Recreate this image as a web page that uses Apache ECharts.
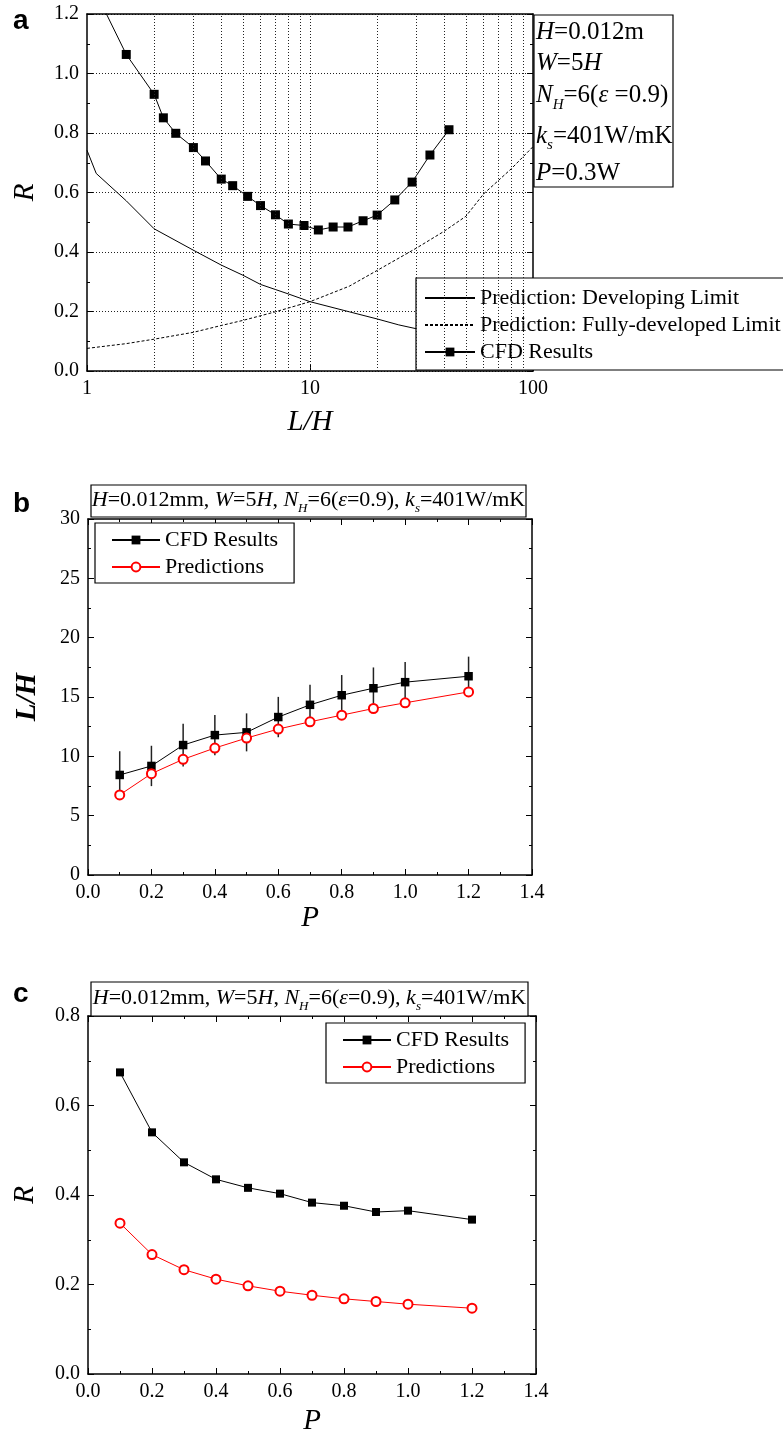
<!DOCTYPE html>
<html><head><meta charset="utf-8">
<script src="https://cdn.jsdelivr.net/npm/echarts/dist/echarts.min.js"></script>
<style>html,body{margin:0;padding:0;background:#fff}#c{width:783px;height:1436px}</style>
</head><body><div id="c"></div>
<script>
// ---------- Panel a : R vs L/H (log x) ----------
const aCfdX = [1.1, 1.5, 2, 2.2, 2.5, 3, 3.4, 4, 4.5, 5.25, 6, 7, 8, 9.4, 10.9, 12.7, 14.8, 17.3, 20, 24, 28.7, 34.5, 42];
const aCfdR = [1.27, 1.064, 0.930, 0.851, 0.799, 0.751, 0.706, 0.645, 0.623, 0.587, 0.556, 0.525, 0.494, 0.489, 0.474, 0.484, 0.484, 0.505, 0.524, 0.575, 0.635, 0.726, 0.811];
const aDevX = [1, 1.1, 1.5, 2, 3, 4, 5, 6, 8, 10, 15, 20, 25, 30, 50, 100];
const aDevR = [0.742, 0.664, 0.572, 0.478, 0.406, 0.356, 0.322, 0.291, 0.259, 0.233, 0.199, 0.175, 0.155, 0.142, 0.110, 0.078];
const aFullX = [1, 1.5, 2, 3, 4, 5, 7, 10, 15, 20, 30, 40, 50, 60, 80, 100];
const aFullR = [0.076, 0.092, 0.107, 0.130, 0.153, 0.170, 0.199, 0.233, 0.285, 0.338, 0.413, 0.470, 0.520, 0.595, 0.680, 0.754];
const aGridX = [2, 3, 4, 5, 6, 7, 8, 9, 10, 20, 30, 40, 50, 60, 70, 80, 90];

// ---------- Panel b : L/H vs P ----------
const bP    = [0.1, 0.2, 0.3, 0.4, 0.5, 0.6, 0.7, 0.8, 0.9, 1.0, 1.2];
const bCfd  = [8.43, 9.19, 10.95, 11.79, 12.02, 13.31, 14.34, 15.15, 15.74, 16.25, 16.75];
const bErr  = [2.0, 1.7, 1.8, 1.7, 1.6, 1.7, 1.7, 1.7, 1.75, 1.7, 1.65];
const bPred = [6.75, 8.54, 9.75, 10.70, 11.54, 12.30, 12.91, 13.47, 14.03, 14.51, 15.43];

// ---------- Panel c : R vs P ----------
const cP    = [0.1, 0.2, 0.3, 0.4, 0.5, 0.6, 0.7, 0.8, 0.9, 1.0, 1.2];
const cCfd  = [0.674, 0.540, 0.473, 0.435, 0.416, 0.403, 0.383, 0.376, 0.362, 0.365, 0.345];
const cPred = [0.337, 0.267, 0.233, 0.212, 0.197, 0.185, 0.176, 0.168, 0.162, 0.156, 0.147];

const zip = (xs, ys) => xs.map((x, i) => [x, ys[i]]);
const serif = 'Liberation Serif';
const lab = { color: '#000', fontFamily: serif, fontSize: 20 };
const fmt1 = v => Number(v).toFixed(1);
const axLine = { show: true, onZero: false, lineStyle: { color: '#000', width: 1.5 } };
const tick = { show: true, inside: true, length: 6, lineStyle: { color: '#000', width: 1 } };
const minor = { show: true, splitNumber: 2, length: 3, lineStyle: { color: '#000', width: 1 } };
const nameSt = (extra) => Object.assign({ fontFamily: serif, fontStyle: 'italic', fontSize: 29, color: '#000' }, extra || {});

function valAxis(grid, pos, min, max, interval, labels, fmt, name, gap, nameStyle, split) {
  const o = {
    type: 'value', gridIndex: grid, position: pos, min, max, interval,
    axisLine: axLine, axisTick: tick, minorTick: minor,
    axisLabel: labels ? Object.assign({ margin: 8, formatter: fmt }, lab) : { show: false },
    splitLine: split ? { show: true, lineStyle: { color: '#222', type: [1, 2], width: 1 } } : { show: false },
    minorSplitLine: { show: false }
  };
  if (name) { o.name = name; o.nameLocation = 'middle'; o.nameGap = gap; o.nameTextStyle = nameStyle; }
  return o;
}

const xAxis = [
  { type: 'log', logBase: 10, gridIndex: 0, position: 'bottom', min: 1, max: 100,
    axisLine: axLine, axisTick: tick, axisLabel: Object.assign({ margin: 8 }, lab),
    splitLine: { show: false }, name: 'L/H', nameLocation: 'middle', nameGap: 37, nameTextStyle: nameSt() },
  { type: 'log', logBase: 10, gridIndex: 0, position: 'top', min: 1, max: 100,
    axisLine: axLine, axisTick: { show: false }, axisLabel: { show: false }, splitLine: { show: false } },
  valAxis(1, 'bottom', 0, 1.4, 0.2, true, fmt1, 'P', 29, nameSt(), false),
  valAxis(1, 'top', 0, 1.4, 0.2, false),
  valAxis(2, 'bottom', 0, 1.4, 0.2, true, fmt1, 'P', 33, nameSt(), false),
  valAxis(2, 'top', 0, 1.4, 0.2, false)
];
const yAxis = [
  valAxis(0, 'left', 0, 1.2, 0.2, true, fmt1, 'R', 47, nameSt(), true),
  valAxis(0, 'right', 0, 1.2, 0.2, false),
  valAxis(1, 'left', 0, 30, 5, true, v => String(v), 'L/H', 46, nameSt({ fontWeight: 'bold' }), false),
  valAxis(1, 'right', 0, 30, 5, false),
  valAxis(2, 'left', 0, 0.8, 0.2, true, fmt1, 'R', 48, nameSt(), false),
  valAxis(2, 'right', 0, 0.8, 0.2, false)
];

const blackLine = { color: '#000', width: 1 };
const redLine = { color: '#f00', width: 1 };

const series = [
  { name: 'Prediction: Developing Limit', type: 'line', xAxisIndex: 0, yAxisIndex: 0,
    data: zip(aDevX, aDevR), symbol: 'none', lineStyle: blackLine, itemStyle: { color: '#000' },
    markLine: { silent: true, symbol: ['none', 'none'], label: { show: false }, animation: false,
      lineStyle: { color: '#222', type: [1, 2], width: 1 }, emphasis: { disabled: true },
      data: aGridX.map(v => ({ xAxis: v })) } },
  { name: 'Prediction: Fully-developed Limit', type: 'line', xAxisIndex: 0, yAxisIndex: 0,
    data: zip(aFullX, aFullR), symbol: 'none', lineStyle: { color: '#000', width: 1, type: [3, 2] }, itemStyle: { color: '#000' } },
  { name: 'CFD Results', type: 'line', xAxisIndex: 0, yAxisIndex: 0,
    data: zip(aCfdX, aCfdR).map((d, i) => i === 0 ? { value: d, symbol: 'none' } : d),
    symbol: 'rect', symbolSize: 9, lineStyle: blackLine, itemStyle: { color: '#000' } },

  { name: 'err', type: 'custom', xAxisIndex: 2, yAxisIndex: 2,
    data: bP.map((p, i) => [p, bCfd[i] - bErr[i], bCfd[i] + bErr[i]]),
    encode: { x: 0, y: [1, 2] },
    renderItem: (params, api) => {
      const lo = api.coord([api.value(0), api.value(1)]);
      const hi = api.coord([api.value(0), api.value(2)]);
      return { type: 'line', shape: { x1: lo[0], y1: lo[1], x2: hi[0], y2: hi[1] }, style: { stroke: '#222', lineWidth: 1.5 } };
    }, z: 1 },
  { name: 'CFD Results', type: 'line', xAxisIndex: 2, yAxisIndex: 2, data: zip(bP, bCfd),
    symbol: 'rect', symbolSize: 8.5, lineStyle: blackLine, itemStyle: { color: '#000' }, z: 3 },
  { name: 'Predictions', type: 'line', xAxisIndex: 2, yAxisIndex: 2, data: zip(bP, bPred),
    symbol: 'emptyCircle', symbolSize: 9, lineStyle: redLine, itemStyle: { color: '#f00', borderWidth: 1 }, z: 3 },

  { name: 'CFD Results', type: 'line', xAxisIndex: 4, yAxisIndex: 4, data: zip(cP, cCfd),
    symbol: 'rect', symbolSize: 8, lineStyle: blackLine, itemStyle: { color: '#000' } },
  { name: 'Predictions', type: 'line', xAxisIndex: 4, yAxisIndex: 4, data: zip(cP, cPred),
    symbol: 'emptyCircle', symbolSize: 9, lineStyle: redLine, itemStyle: { color: '#f00', borderWidth: 1 } }
];

const legBase = {
  orient: 'vertical', itemGap: 5, itemHeight: 11, backgroundColor: '#fff',
  borderColor: '#000', borderWidth: 1.2, selectedMode: false,
  textStyle: { fontFamily: serif, fontSize: 22, color: '#000' }
};
const legend = [
  Object.assign({}, legBase, { left: 416, top: 278, padding: [9, 8, 7, 8], itemWidth: 50,
    data: [{ name: 'Prediction: Developing Limit', itemStyle: { opacity: 0 } },
           { name: 'Prediction: Fully-developed Limit', itemStyle: { opacity: 0 } }, 'CFD Results'] }),
  Object.assign({}, legBase, { left: 95, top: 523, padding: [6, 16, 5, 16], itemWidth: 48,
    data: ['CFD Results', 'Predictions'] }),
  Object.assign({}, legBase, { left: 326, top: 1023, padding: [6, 16, 5, 16], itemWidth: 48,
    data: ['CFD Results', 'Predictions'] })
];

// rich text helpers
function rich(fs, lh, subFs) {
  return {
    i: { fontFamily: serif, fontStyle: 'italic', fontSize: fs, lineHeight: lh, color: '#000' },
    n: { fontFamily: serif, fontSize: fs, lineHeight: lh, color: '#000' },
    s: { fontFamily: serif, fontStyle: 'italic', fontSize: subFs, verticalAlign: 'bottom', color: '#000' }
  };
}
const annA = [
  ['{i|H}{n|=0.012m}', 32.7],
  ['{i|W}{n|=5}{i|H}', 63.3],
  ['{i|N}{s|H}{n|=6(}{i|ε}{n| =0.9)}', 95.7],
  ['{i|k}{s|s}{n|=401W/mK}', 136],
  ['{i|P}{n|=0.3W}', 173.3]
];
const annBC = '{i|H}{n|=0.012mm, }{i|W}{n|=5}{i|H}{n|, }{i|N}{s|H}{n|=6(}{i|ε}{n|=0.9), }{i|k}{s|s}{n|=401W/mK}';

const graphic = [
  { type: 'rect', shape: { x: 534, y: 15, width: 139, height: 172 }, style: { fill: '#fff', stroke: '#000', lineWidth: 1.2 }, z: 10 },
  ...annA.map(([t, y]) => ({ type: 'text', x: 536, y: y, z: 11,
    style: { text: t, rich: rich(25, 34, 15), align: 'left', verticalAlign: 'middle' } })),
  { type: 'rect', shape: { x: 91, y: 485, width: 435, height: 32 }, style: { fill: '#fff', stroke: '#000', lineWidth: 1.2 }, z: 10 },
  { type: 'text', x: 308.5, y: 500, z: 11, style: { text: annBC, rich: rich(22, 30, 13), align: 'center', verticalAlign: 'middle' } },
  { type: 'rect', shape: { x: 91, y: 982, width: 437, height: 34 }, style: { fill: '#fff', stroke: '#000', lineWidth: 1.2 }, z: 10 },
  { type: 'text', x: 309.5, y: 998, z: 11, style: { text: annBC, rich: rich(22, 30, 13), align: 'center', verticalAlign: 'middle' } },
  { type: 'text', x: 13, y: 21.5, z: 11, style: { text: 'a', font: 'bold 28px "Liberation Sans"', fill: '#000', verticalAlign: 'middle' } },
  { type: 'text', x: 13, y: 504.5, z: 11, style: { text: 'b', font: 'bold 28px "Liberation Sans"', fill: '#000', verticalAlign: 'middle' } },
  { type: 'text', x: 13, y: 994.5, z: 11, style: { text: 'c', font: 'bold 28px "Liberation Sans"', fill: '#000', verticalAlign: 'middle' } }
];

const chart = echarts.init(document.getElementById('c'), null, { renderer: 'canvas', width: 783, height: 1436 });
chart.setOption({
  animation: false,
  backgroundColor: '#fff',
  grid: [
    { left: 87, top: 14, width: 446, height: 357, containLabel: false, outerBoundsMode: 'none' },
    { left: 88, top: 519, width: 444, height: 356, containLabel: false, outerBoundsMode: 'none' },
    { left: 88, top: 1016, width: 448, height: 358, containLabel: false, outerBoundsMode: 'none' }
  ],
  xAxis, yAxis, series, legend, graphic
});
</script>
</body></html>
